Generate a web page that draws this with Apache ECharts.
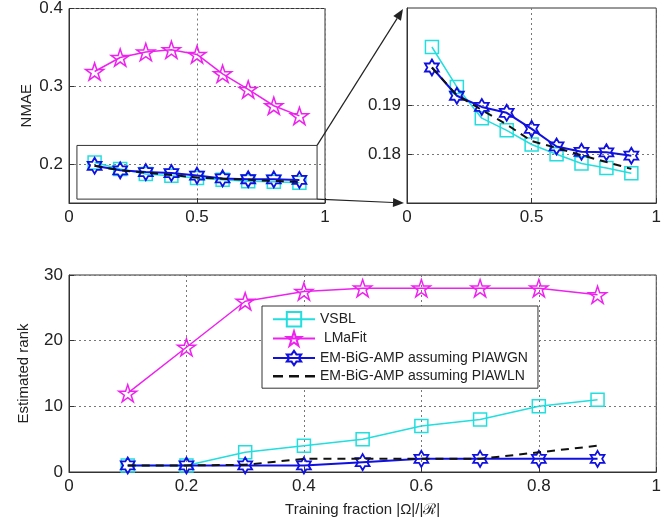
<!DOCTYPE html>
<html>
<head>
<meta charset="utf-8">
<script src="https://cdn.jsdelivr.net/npm/echarts@6/dist/echarts.min.js"></script>
<style>html,body{margin:0;padding:0;background:#fff}#c{width:664px;height:527px}</style>
</head>
<body>
<div id="c"></div>
<script>
// ---- data ----
const fraction = [0.1, 0.2, 0.3, 0.4, 0.5, 0.6, 0.7, 0.8, 0.9];
const seriesNames = ['VSBL', ' LMaFit', 'EM-BiG-AMP assuming PIAWGN', 'EM-BiG-AMP assuming PIAWLN'];
const nmaeVSBL   = [0.2020, 0.1938, 0.1874, 0.1849, 0.1820, 0.1800, 0.1781, 0.1772, 0.1761];
const nmaeLMaFit = [0.319, 0.337, 0.344, 0.347, 0.341, 0.316, 0.296, 0.275, 0.262];
const nmaePIAWGN = [0.1978, 0.1920, 0.1897, 0.1885, 0.1852, 0.1816, 0.1805, 0.1804, 0.1797];
const nmaePIAWLN = [0.1978, 0.1921, 0.1891, 0.1861, 0.1827, 0.1813, 0.1798, 0.1784, 0.1770];
const rankVSBL   = [1, 1, 3, 4, 5, 7, 8, 10, 11];
const rankLMaFit = [12, 19, 26, 27.5, 28, 28, 28, 28, 27];
const rankPIAWGN = [1, 1, 1, 1, 1.5, 2, 2, 2, 2];
const rankPIAWLN = [1, 1, 1.1, 2, 2, 2, 2, 3, 4];
const ticksNmaeLeft  = [0.2, 0.3, 0.4];
const ticksNmaeRight = [0.18, 0.19];
const zoomBoxX = [0.031, 0.969];
const zoomBoxY = [0.155, 0.224];

// ---- symbols ----
function starPath(n, inner) {
  let d = '';
  for (let i = 0; i < 2 * n; i++) {
    const r = i % 2 ? inner : 1;
    const a = -Math.PI / 2 + i * Math.PI / n;
    d += (i ? 'L' : 'M') + (r * Math.cos(a)).toFixed(4) + ',' + (r * Math.sin(a)).toFixed(4);
  }
  return 'path://' + d + 'Z';
}
const pentagram = starPath(5, 0.382);
const hexagram = starPath(6, 0.577);
const dashIcon = 'path://M0,0h10v2.4h-10zM16,0h10v2.4h-10zM32,0h10v2.4h-10z';

const C_CYAN = '#22dede', C_MAG = '#ee22ee', C_BLUE = '#1010e0', C_BLACK = '#111';
const FONT = 'Liberation Sans';

function pairs(ys) { return fraction.map((x, i) => [x, ys[i]]); }

function mk(kind, data, xi, extra) {
  const base = { type: 'line', xAxisIndex: xi, yAxisIndex: xi, data: pairs(data), animation: false, symbolKeepAspect: true };
  if (kind === 0) Object.assign(base, { name: seriesNames[0], symbol: 'rect', symbolSize: 13, lineStyle: { color: C_CYAN, width: 1.5 }, itemStyle: { color: 'rgba(255,255,255,0)', borderColor: C_CYAN, borderWidth: 1.5 }, z: 2 });
  if (kind === 1) Object.assign(base, { name: seriesNames[1], symbol: pentagram, symbolSize: 18, lineStyle: { color: C_MAG, width: 1.5 }, itemStyle: { color: 'rgba(255,255,255,0)', borderColor: C_MAG, borderWidth: 1.5 }, z: 3 });
  if (kind === 2) Object.assign(base, { name: seriesNames[2], symbol: hexagram, symbolSize: 16, lineStyle: { color: C_BLUE, width: 2 }, itemStyle: { color: 'rgba(255,255,255,0)', borderColor: C_BLUE, borderWidth: 1.8 }, z: 4 });
  if (kind === 3) Object.assign(base, { name: seriesNames[3], symbol: 'none', lineStyle: { color: C_BLACK, width: 2, type: [8, 6] }, itemStyle: { color: C_BLACK }, z: 5 });
  return Object.assign(base, extra || {});
}

const gridBox = { show: true, borderColor: '#333', borderWidth: 1, backgroundColor: '#fff' };
const split = { show: true, lineStyle: { color: '#777', type: [2, 3], width: 1 } };
const lbl = { color: '#222', fontSize: 17, fontFamily: FONT, margin: 6 };

function xa(gi, interval) {
  return { type: 'value', gridIndex: gi, min: 0, max: 1, interval: interval,
    axisLine: { show: true, lineStyle: { color: '#333' } },
    axisTick: { show: true, inside: true, length: 5, lineStyle: { color: '#333' } },
    axisLabel: Object.assign({}, lbl), splitLine: split };
}

const option = {
  animation: false,
  textStyle: { fontFamily: FONT },
  grid: [
    Object.assign({ left: 69, top: 8, width: 256, height: 195 }, gridBox),
    Object.assign({ left: 407, top: 8, width: 255, height: 195 }, gridBox),
    Object.assign({ left: 69, top: 275, width: 593, height: 197 }, gridBox)
  ],
  xAxis: [
    xa(0, 0.5), xa(1, 0.5),
    Object.assign(xa(2, 0.2), { name: 'Training fraction |Ω|/|ℛ|', nameLocation: 'middle', nameGap: 30,
      nameTextStyle: { fontSize: 15, color: '#222', fontFamily: FONT } })
  ],
  yAxis: [
    { type: 'value', gridIndex: 0, min: 0.15, max: 0.4, name: 'NMAE', nameLocation: 'middle', nameGap: 35,
      nameTextStyle: { fontSize: 15, color: '#222', fontFamily: FONT },
      axisLine: { show: true, lineStyle: { color: '#333' } },
      axisTick: { show: true, inside: true, length: 5, customValues: ticksNmaeLeft, lineStyle: { color: '#333' } },
      axisLabel: Object.assign({ customValues: ticksNmaeLeft }, lbl), splitLine: split },
    { type: 'value', gridIndex: 1, min: 0.17, max: 0.21,
      axisLine: { show: true, lineStyle: { color: '#333' } },
      axisTick: { show: true, inside: true, length: 5, customValues: ticksNmaeRight, lineStyle: { color: '#333' } },
      axisLabel: Object.assign({ customValues: ticksNmaeRight }, lbl), splitLine: split },
    { type: 'value', gridIndex: 2, min: 0, max: 30, interval: 10, name: 'Estimated rank', nameLocation: 'middle', nameGap: 38,
      nameTextStyle: { fontSize: 15, color: '#222', fontFamily: FONT },
      axisLine: { show: true, lineStyle: { color: '#333' } },
      axisTick: { show: true, inside: true, length: 5, lineStyle: { color: '#333' } },
      axisLabel: Object.assign({}, lbl), splitLine: split }
  ],
  legend: {
    data: [seriesNames[0], seriesNames[1], seriesNames[2], { name: seriesNames[3], icon: dashIcon }],
    orient: 'vertical', left: 262, top: 306,
    padding: [5, 10], itemGap: 3, itemWidth: 42, itemHeight: 18,
    backgroundColor: '#fff', borderColor: '#333', borderWidth: 1,
    textStyle: { fontSize: 14, color: '#222', fontFamily: FONT }
  },
  series: [
    mk(0, nmaeVSBL, 0, {
      markArea: { silent: true, itemStyle: { color: 'rgba(0,0,0,0)', borderColor: '#333', borderWidth: 1 },
        data: [[{ coord: [zoomBoxX[0], zoomBoxY[1]] }, { coord: [zoomBoxX[1], zoomBoxY[0]] }]] } }),
    mk(1, nmaeLMaFit, 0), mk(2, nmaePIAWGN, 0), mk(3, nmaePIAWLN, 0),
    mk(0, nmaeVSBL, 1), mk(2, nmaePIAWGN, 1), mk(3, nmaePIAWLN, 1),
    mk(0, rankVSBL, 2), mk(1, rankLMaFit, 2), mk(2, rankPIAWGN, 2), mk(3, rankPIAWLN, 2)
  ]
};

const chart = echarts.init(document.getElementById('c'), null, { renderer: 'canvas' });
chart.setOption(option);

// arrows from zoom box to the zoomed axes
function arrow(p, q) {
  const dx = q[0] - p[0], dy = q[1] - p[1], L = Math.hypot(dx, dy);
  const ux = dx / L, uy = dy / L, hl = 11, hw = 4.5;
  const b = [q[0] - ux * hl, q[1] - uy * hl];
  return [
    { type: 'line', shape: { x1: p[0], y1: p[1], x2: b[0], y2: b[1] }, style: { stroke: '#222', lineWidth: 1.2 }, z: 100 },
    { type: 'polygon', shape: { points: [q, [b[0] - uy * hw, b[1] + ux * hw], [b[0] + uy * hw, b[1] - ux * hw]] }, style: { fill: '#222' }, z: 100 }
  ];
}
const a1 = chart.convertToPixel({ gridIndex: 0 }, [zoomBoxX[1], zoomBoxY[1]]);
const a2 = chart.convertToPixel({ gridIndex: 0 }, [zoomBoxX[1], zoomBoxY[0]]);
const b1 = chart.convertToPixel({ gridIndex: 1 }, [0, 0.21]);
const b2 = chart.convertToPixel({ gridIndex: 1 }, [0, 0.17]);
b1[0] -= 4; b1[1] += 1; b2[0] -= 3;
chart.setOption({ graphic: arrow(a1, b1).concat(arrow(a2, b2)) });
</script>
</body>
</html>
